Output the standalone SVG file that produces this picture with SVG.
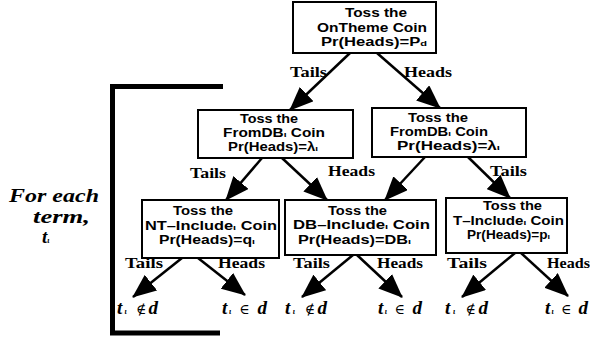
<svg xmlns="http://www.w3.org/2000/svg" width="590" height="341" viewBox="0 0 590 341">
<style>
.box{fill:#fff;stroke:#000;stroke-width:2}
.bt{font-family:"Liberation Sans",Arial,sans-serif;font-weight:bold;font-size:12px;fill:#000}
.lb{font-family:"Liberation Serif","Times New Roman",serif;font-weight:bold;font-size:15px;fill:#000}
.oc{font-family:"Liberation Serif","Times New Roman",serif;font-weight:bold;font-style:italic;font-size:19px;fill:#000}
.sub{font-size:8px}
.sym{font-family:"DejaVu Serif",serif;font-style:normal;font-weight:normal;font-size:14px}
.ar{stroke:#000;stroke-width:2.5;fill:none;marker-end:url(#ah)}
</style>
<defs>
<marker id="ah" markerUnits="userSpaceOnUse" markerWidth="24" markerHeight="20" refX="23" refY="10" orient="auto" viewBox="0 0 24 20">
<path d="M0,0 L24,10 L0,20 z" fill="#000"/>
</marker>
</defs>
<rect width="590" height="341" fill="#fff"/>
<path d="M223,86.5 H112.5 V333 H220" fill="none" stroke="#000" stroke-width="5"/>
<g id="foreach">
<text class="oc" x="9" y="202" textLength="90" lengthAdjust="spacingAndGlyphs">For each</text>
<text class="oc" x="33" y="223" textLength="57" lengthAdjust="spacingAndGlyphs">term,</text>
<text class="oc" x="42" y="243" font-size="20">t<tspan class="sub">ι</tspan></text>
</g>
<g id="connectors">
<line class="ar" x1="350" y1="53" x2="290" y2="110"/>
<line class="ar" x1="377" y1="53" x2="440" y2="108"/>
<line class="ar" x1="262" y1="158" x2="226" y2="200"/>
<line class="ar" x1="282" y1="158" x2="327" y2="200"/>
<line class="ar" x1="425" y1="157" x2="385" y2="200"/>
<line class="ar" x1="468" y1="157" x2="510" y2="198"/>
<line class="ar" x1="182" y1="258" x2="133" y2="297"/>
<line class="ar" x1="198" y1="258" x2="245" y2="295"/>
<line class="ar" x1="353" y1="255" x2="302" y2="297"/>
<line class="ar" x1="357" y1="255" x2="402" y2="297"/>
<line class="ar" x1="515" y1="253" x2="462" y2="297"/>
<line class="ar" x1="521" y1="253" x2="568" y2="296"/>
<text class="lb" x="290" y="77" textLength="37" lengthAdjust="spacingAndGlyphs">Tails</text>
<text class="lb" x="404" y="77" textLength="48" lengthAdjust="spacingAndGlyphs">Heads</text>
<text class="lb" x="190" y="178" textLength="36" lengthAdjust="spacingAndGlyphs">Tails</text>
<text class="lb" x="328" y="176" textLength="47" lengthAdjust="spacingAndGlyphs">Heads</text>
<text class="lb" x="490" y="176" textLength="37" lengthAdjust="spacingAndGlyphs">Tails</text>
<text class="lb" x="125" y="268" textLength="38" lengthAdjust="spacingAndGlyphs">Tails</text>
<text class="lb" x="218" y="268" textLength="47" lengthAdjust="spacingAndGlyphs">Heads</text>
<text class="lb" x="293" y="268" textLength="37" lengthAdjust="spacingAndGlyphs">Tails</text>
<text class="lb" x="377" y="268" textLength="46" lengthAdjust="spacingAndGlyphs">Heads</text>
<text class="lb" x="447" y="268" textLength="40" lengthAdjust="spacingAndGlyphs">Tails</text>
<text class="lb" x="547" y="268" textLength="43" lengthAdjust="spacingAndGlyphs">Heads</text>
</g>
<g id="top">
<rect class="box" x="293" y="2" width="143" height="51"/>
<text class="bt" x="345" y="17" textLength="62" lengthAdjust="spacingAndGlyphs">Toss the</text>
<text class="bt" x="317" y="32" textLength="110" lengthAdjust="spacingAndGlyphs">OnTheme Coin</text>
<text class="bt" x="321" y="46" textLength="106" lengthAdjust="spacingAndGlyphs">Pr(Heads)=P<tspan class="sub">d</tspan></text>
</g>
<g id="fromdb1">
<rect class="box" x="198" y="110" width="155" height="48"/>
<text class="bt" x="240" y="123" textLength="58" lengthAdjust="spacingAndGlyphs">Toss the</text>
<text class="bt" x="223" y="137" textLength="102" lengthAdjust="spacingAndGlyphs">FromDB<tspan class="sub">ι</tspan> Coin</text>
<text class="bt" x="228" y="151" textLength="90" lengthAdjust="spacingAndGlyphs">Pr(Heads)=λ<tspan class="sub">ι</tspan></text>
</g>
<g id="fromdb2">
<rect class="box" x="372" y="108" width="154" height="49"/>
<text class="bt" x="408" y="122" textLength="60" lengthAdjust="spacingAndGlyphs">Toss the</text>
<text class="bt" x="390" y="136" textLength="98" lengthAdjust="spacingAndGlyphs">FromDB<tspan class="sub">ι</tspan> Coin</text>
<text class="bt" x="397" y="150" textLength="103" lengthAdjust="spacingAndGlyphs">Pr(Heads)=λ<tspan class="sub">ι</tspan></text>
</g>
<g id="ntinclude">
<rect class="box" x="142" y="200" width="137" height="58"/>
<text class="bt" x="173" y="215" textLength="60" lengthAdjust="spacingAndGlyphs">Toss the</text>
<text class="bt" x="145" y="230" textLength="132" lengthAdjust="spacingAndGlyphs">NT–Include<tspan class="sub">ι</tspan> Coin</text>
<text class="bt" x="159" y="244" textLength="96" lengthAdjust="spacingAndGlyphs">Pr(Heads)=q<tspan class="sub">ι</tspan></text>
</g>
<g id="dbinclude">
<rect class="box" x="285" y="200" width="151" height="55"/>
<text class="bt" x="328" y="215" textLength="59" lengthAdjust="spacingAndGlyphs">Toss the</text>
<text class="bt" x="293" y="229" textLength="137" lengthAdjust="spacingAndGlyphs">DB–Include<tspan class="sub">ι</tspan> Coin</text>
<text class="bt" x="298" y="244" textLength="113" lengthAdjust="spacingAndGlyphs">Pr(Heads)=DB<tspan class="sub">ι</tspan></text>
</g>
<g id="tinclude">
<rect class="box" x="446" y="198" width="121" height="55"/>
<text class="bt" x="483" y="210" textLength="59" lengthAdjust="spacingAndGlyphs">Toss the</text>
<text class="bt" x="453" y="225" textLength="111" lengthAdjust="spacingAndGlyphs">T–Include<tspan class="sub">ι</tspan> Coin</text>
<text class="bt" x="467" y="239" textLength="83" lengthAdjust="spacingAndGlyphs">Pr(Heads)=p<tspan class="sub">ι</tspan></text>
</g>
<g id="outcomes">
<text class="oc" x="117" y="314" textLength="41" lengthAdjust="spacing">t<tspan class="sub">ι</tspan> <tspan class="sym">∉</tspan>d</text>
<text class="oc" x="222" y="314" textLength="45" lengthAdjust="spacing">t<tspan class="sub">ι</tspan> <tspan class="sym">∈</tspan> d</text>
<text class="oc" x="285" y="314" textLength="42" lengthAdjust="spacing">t<tspan class="sub">ι</tspan> <tspan class="sym">∉</tspan>d</text>
<text class="oc" x="378" y="314" textLength="44" lengthAdjust="spacing">t<tspan class="sub">ι</tspan> <tspan class="sym">∈</tspan> d</text>
<text class="oc" x="445" y="314" textLength="43" lengthAdjust="spacing">t<tspan class="sub">ι</tspan> <tspan class="sym">∉</tspan>d</text>
<text class="oc" x="545" y="314" textLength="43" lengthAdjust="spacing">t<tspan class="sub">ι</tspan> <tspan class="sym">∈</tspan> d</text>
</g>
</svg>
